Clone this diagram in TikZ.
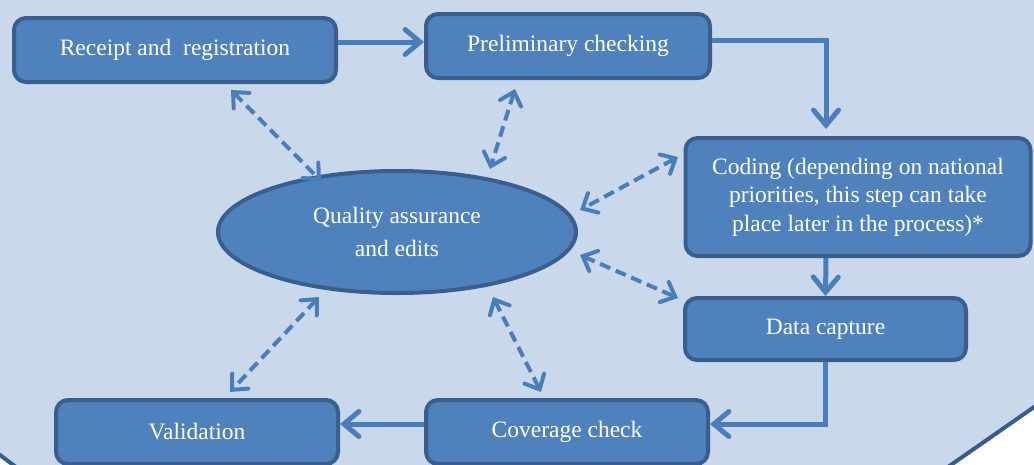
\documentclass[tikz,border=0pt]{standalone}
\usepackage{fontspec}
\setmainfont{Liberation Serif}
\usetikzlibrary{arrows.meta,shapes.geometric,calc}
\definecolor{bgfill}{HTML}{CAD8EB}
\definecolor{bgline}{HTML}{385D8A}
\definecolor{boxfill}{HTML}{4F81BD}
\definecolor{boxline}{HTML}{3A5F8E}
\definecolor{arrowc}{HTML}{4A7EBB}
\tikzset{
  stepbox/.style={draw=boxline, fill=boxfill, line width=4pt, rounded corners=12pt,
    text=white, font=\fontsize{23.5}{28.5}\selectfont, align=center, inner sep=0pt},
  qabox/.style={draw=boxline, fill=boxfill, ellipse, line width=4pt, text=white,
    font=\fontsize{23.5}{33}\selectfont, align=center, inner sep=0pt,
    minimum width=358pt, minimum height=122pt},
  flow/.style={draw=arrowc, line width=5pt, -{Straight Barb[length=15pt,width=25pt,line cap=round]}},
  link/.style={draw=arrowc, line width=4pt, dash pattern=on 11pt off 6pt,
    {Straight Barb[length=12pt,width=22pt,line cap=round]}-{Straight Barb[length=12pt,width=22pt,line cap=round]}},
}
\begin{document}
\begin{tikzpicture}[x=1pt,y=-1pt]
\useasboundingbox (0,0) rectangle (1034,464);
\clip (0,0) rectangle (1034,464);
\fill[white] (0,0) rectangle (1034,464);
\filldraw[fill=bgfill, draw=bgline, line width=4pt] (-20,-20) -- (1060,-20) -- (1060,389) -- (935,476) -- (28,476) -- (-20,440) -- cycle;

\node[stepbox, minimum width=322pt, minimum height=64pt] (rec) at (175,50) {Receipt and~~registration};
\node[stepbox, minimum width=284pt, minimum height=64pt] (pre) at (568,46) {Preliminary checking};
\node[stepbox, minimum width=345pt, minimum height=118pt] (cod) at (858,197) {Coding (depending on national\\priorities, this step can take\\place later in the process)*};
\node[stepbox, minimum width=281pt, minimum height=62pt] (dat) at (825.5,329) {Data capture};
\node[stepbox, minimum width=282pt, minimum height=64pt] (cov) at (567,432) {Coverage check};
\node[stepbox, minimum width=282pt, minimum height=64pt] (val) at (197,432) {Validation};
\node[qabox] (qa) at (397,232) {Quality assurance\\and edits};

\draw[flow] ([yshift=8pt]rec.east) -- ([yshift=4pt]pre.west);
\draw[flow, shorten >=7pt] ([yshift=6pt]pre.east) -| ([xshift=-32pt]cod.north);
\draw[flow] ([xshift=-32pt]cod.south) -- (dat.north);
\draw[flow] (dat.south) |- ([yshift=8pt]cov.east);
\draw[flow] ([yshift=8pt]cov.west) -- ([yshift=8pt]val.east);

\coordinate (r1) at (231,90);
\coordinate (r2) at (321,181);
\coordinate (p1) at (515,89);
\coordinate (p2) at (490,169);
\coordinate (c1) at (678,157);
\coordinate (c2) at (580,210);
\coordinate (d1) at (580,255);
\coordinate (d2) at (678,298);
\coordinate (v1) at (319,297);
\coordinate (v2) at (230,392);
\coordinate (k1) at (493,297);
\coordinate (k2) at (541,392);
\draw[link] (r1) -- (r2);
\draw[link] (p1) -- (p2);
\draw[link] (c1) -- (c2);
\draw[link] (d1) -- (d2);
\draw[link] (v1) -- (v2);
\draw[link] (k1) -- (k2);
\end{tikzpicture}
\end{document}
